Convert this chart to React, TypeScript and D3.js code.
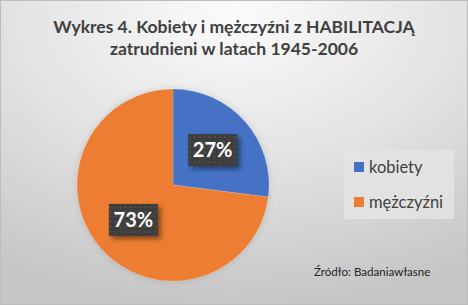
import React from "react";
import * as d3 from "d3";

const categories = ["kobiety", "mężczyźni"];
const values = [27, 73];
const colors = ["#4472C4", "#ED7D31"];
const titleLines = ["Wykres 4. Kobiety i mężczyźni z HABILITACJĄ", "zatrudnieni w latach 1945-2006"];
const sourceText = "Źródło: Badaniawłasne";

const W = 468, H = 305;
const cx = 173, cy = 185, R = 96;
const FONT = "Lato, 'Open Sans', sans-serif";

export default function App() {
  const pie = d3.pie<number>().sort(null).value((d) => d)(values);
  const arc = d3.arc<d3.PieArcDatum<number>>().innerRadius(0).outerRadius(R);
  const labelArc = d3.arc<d3.PieArcDatum<number>>().innerRadius(R * 0.55).outerRadius(R * 0.55);
  const total = d3.sum(values);
  return (
    <svg width={W} height={H} style={{ position: "absolute", left: 0, top: 0, display: "block" }}>
      <defs>
        <radialGradient id="bg" cx="0.5" cy="0.05" r="0.95" fx="0.5" fy="0.05">
          <stop offset="0" stopColor="#fbfbfb" />
          <stop offset="0.5" stopColor="#e3e3e3" />
          <stop offset="1" stopColor="#c6c6c6" />
        </radialGradient>
        <pattern id="dots" width="5" height="5" patternUnits="userSpaceOnUse">
          <rect width="5" height="5" fill="#3e3e3e" />
          <rect x="1" y="1" width="2" height="2" fill="#4d4d4d" />
        </pattern>
        <filter id="sh" x="-30%" y="-30%" width="170%" height="170%">
          <feDropShadow dx="3" dy="3" stdDeviation="2.5" floodColor="#000" floodOpacity="0.45" />
        </filter>
        <filter id="pieSh" x="-20%" y="-20%" width="140%" height="140%">
          <feDropShadow dx="0" dy="0" stdDeviation="3" floodColor="#000" floodOpacity="0.15" />
        </filter>
      </defs>
      <rect x={0.5} y={0.5} width={W - 1} height={H - 1} fill="url(#bg)" stroke="#bdbdbd" strokeWidth={1} />
      {titleLines.map((t, i) => (
        <text key={i} x={234} y={33 + i * 22} textAnchor="middle" fontFamily={FONT} fontWeight="bold" fontSize={17.5} fill="#404040">
          {t}
        </text>
      ))}
      <g transform={`translate(${cx},${cy})`} filter="url(#pieSh)">
        {pie.map((d, i) => (
          <path key={i} d={arc(d) || ""} fill={colors[i]} stroke="#ffffff" strokeOpacity={0.3} strokeWidth={0.5} />
        ))}
      </g>
      <g transform={`translate(${cx},${cy})`}>
        {pie.map((d, i) => {
          const [lx, ly] = labelArc.centroid(d);
          const txt = `${Math.round((d.data / total) * 100)}%`;
          return (
            <g key={i} transform={`translate(${lx},${ly})`}>
              <rect x={-24.5} y={-16} width={49} height={32} fill="url(#dots)" filter="url(#sh)" />
              <text x={0} y={7} textAnchor="middle" fontFamily={FONT} fontWeight="bold" fontSize={20} fill="#ffffff">
                {txt}
              </text>
            </g>
          );
        })}
      </g>
      <rect x={344} y={150} width={110} height={69} fill="#e4e4e4" opacity={0.85} />
      {categories.map((c, i) => (
        <g key={c} transform={`translate(354,${162 + i * 35})`}>
          <rect width={10} height={10} fill={colors[i]} />
          <text x={15} y={11} fontFamily={FONT} fontSize={16.5} fill="#404040">{c}</text>
        </g>
      ))}
      <text x={314} y={276} fontFamily={FONT} fontSize={11.6} fill="#262626">{sourceText}</text>
    </svg>
  );
}
